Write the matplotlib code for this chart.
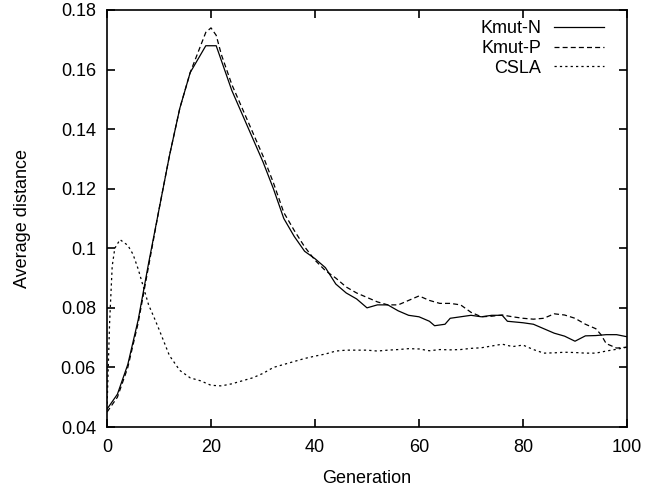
import numpy as np
import matplotlib
matplotlib.use('Agg')
import matplotlib.pyplot as plt
from matplotlib.ticker import FuncFormatter

plt.rcParams['font.family'] = ['Liberation Sans', 'DejaVu Sans']
plt.rcParams['font.size'] = 13

# Kmut-N (solid)
gen_n = [0, 2, 4, 6, 8, 10, 12, 14, 16, 18, 19, 21, 22, 24, 26, 28, 30, 32, 34, 36, 38,
         40, 42, 44, 46, 48, 50, 52, 54, 56, 58, 60, 62, 63, 65, 66, 68, 70, 72, 74, 76,
         77, 80, 82, 84, 86, 88, 90, 92, 94, 96, 98, 100]
kmut_n = [0.046, 0.051, 0.061, 0.076, 0.095, 0.113, 0.131, 0.147, 0.159, 0.165, 0.168,
          0.168, 0.163, 0.153, 0.145, 0.137, 0.129, 0.120, 0.110, 0.104, 0.099,
          0.0965, 0.0935, 0.088, 0.085, 0.083, 0.080, 0.081, 0.081, 0.079, 0.0775,
          0.077, 0.0755, 0.074, 0.0745, 0.0765, 0.077, 0.0775, 0.077, 0.0775, 0.0775,
          0.0755, 0.075, 0.0745, 0.073, 0.0715, 0.0705, 0.0688, 0.0706, 0.0707, 0.071,
          0.071, 0.0703]

# Kmut-P (dashed)
gen_p = [0, 2, 4, 6, 8, 10, 12, 14, 16, 18, 19, 20, 21, 22, 24, 26, 28, 30, 32, 34, 36,
         38, 40, 42, 44, 46, 48, 50, 52, 54, 56, 58, 60, 62, 64, 66, 68, 70, 72, 74, 76,
         78, 80, 82, 84, 86, 88, 90, 92, 94, 95, 96, 98, 100]
kmut_p = [0.045, 0.050, 0.060, 0.075, 0.094, 0.113, 0.131, 0.147, 0.159, 0.168, 0.1725,
          0.174, 0.1715, 0.165, 0.155, 0.147, 0.139, 0.131, 0.122, 0.112, 0.106,
          0.1005, 0.096, 0.0925, 0.090, 0.087, 0.085, 0.0835, 0.082, 0.081, 0.081,
          0.0825, 0.084, 0.0825, 0.0815, 0.0815, 0.081, 0.0785, 0.077, 0.0772, 0.0776,
          0.077, 0.0765, 0.0762, 0.0765, 0.078, 0.0776, 0.0765, 0.0745, 0.073, 0.071,
          0.068, 0.0665, 0.0668]

# CSLA (dotted)
gen_c = [0, 0.5, 1, 1.5, 2.5, 4, 5, 6, 7, 8, 9, 10, 12, 14, 16, 18, 20, 22, 24, 26, 28,
         30, 32, 34, 36, 38, 40, 42, 44, 46, 48, 50, 52, 54, 56, 58, 60, 62, 64, 66, 68,
         70, 72, 74, 76, 78, 80, 82, 84, 86, 88, 90, 92, 94, 96, 98, 100]
csla = [0.046, 0.075, 0.094, 0.100, 0.1029, 0.101, 0.098, 0.093, 0.087, 0.081, 0.077,
        0.0728, 0.064, 0.059, 0.0565, 0.0555, 0.054, 0.0538, 0.0545, 0.0555, 0.0565,
        0.058, 0.060, 0.061, 0.062, 0.063, 0.0638, 0.0645, 0.0655, 0.0658, 0.0658,
        0.0658, 0.0655, 0.0658, 0.066, 0.0663, 0.0662, 0.0656, 0.066, 0.0659, 0.066,
        0.0664, 0.0666, 0.0672, 0.0678, 0.067, 0.0675, 0.066, 0.0648, 0.0649, 0.0651,
        0.065, 0.0648, 0.0648, 0.0655, 0.0661, 0.0668]

fig = plt.figure(figsize=(6.6, 4.91), dpi=100)
ax = fig.add_axes([107/660, 64/491, 520/660, 417/491])

ax.plot(gen_n, kmut_n, color='black', lw=0.9, ls='-', label='Kmut-N')
ax.plot(gen_p, kmut_p, color='black', lw=0.9, ls=(0, (4, 2.5)), label='Kmut-P')
ax.plot(gen_c, csla, color='black', lw=0.9, ls=(0, (1.8, 2.5)), label='CSLA')

ax.set_xlim(0, 100)
ax.set_ylim(0.04, 0.18)
ax.set_xticks(np.arange(0, 101, 20))
ax.set_yticks(np.arange(0.04, 0.181, 0.02))
ax.yaxis.set_major_formatter(FuncFormatter(lambda v, p: ('%.2f' % v).rstrip('0')))
ax.tick_params(direction='in', top=True, right=True, length=6, width=1.2)
ax.tick_params(axis='y', pad=8)
ax.tick_params(axis='x', pad=9)
for s in ax.spines.values():
    s.set_linewidth(1.2)

ax.set_xlabel('Generation', labelpad=10)
ax.set_ylabel('Average distance', labelpad=21)

ax.legend(loc='upper right', bbox_to_anchor=(0.956, 0.976), frameon=False,
          markerfirst=False, handlelength=2.8, handletextpad=0.67,
          labelspacing=0.16, borderaxespad=0, borderpad=0)

fig.savefig('out.png', dpi=100)
